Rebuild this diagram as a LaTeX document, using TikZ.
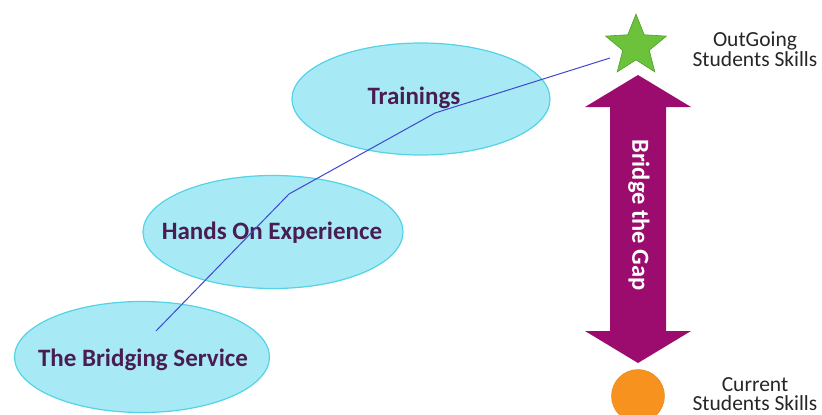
\documentclass[tikz,border=0pt]{standalone}
\usepackage{fontspec}
\setmainfont{Carlito}
\usetikzlibrary{shapes.geometric}
\definecolor{skyfill}{HTML}{A8E9F6}
\definecolor{skyline}{HTML}{52D4E6}
\definecolor{plumtext}{HTML}{4A1D52}
\definecolor{gapplum}{HTML}{9C0C6E}
\definecolor{pathblue}{HTML}{3E47CF}
\definecolor{stargreen}{HTML}{6CC23A}
\definecolor{starline}{HTML}{4E9E2C}
\definecolor{dotorange}{HTML}{F7921E}
\tikzset{
  stage/.style={ellipse, draw=skyline, line width=1.2pt, fill=skyfill, inner sep=0},
  stagetext/.style={text=plumtext, font=\fontsize{25}{28}\selectfont\bfseries},
  skill/.style={align=center, text=black!85, font=\fontsize{21.5}{19.5}\selectfont},
}
\begin{document}
\begin{tikzpicture}[x=1pt,y=-1pt]
        \useasboundingbox (0,0) rectangle (822,415);

        \node[stage, minimum width=258, minimum height=112] at (421,99) (trainings) {};
        \node[stagetext] at (414,98) (trainingstext) {Trainings};
        \node[stage, minimum width=260, minimum height=113] at (273,232) (hands) {};
        \node[stagetext] at (272,233) (handstext) {Hands On Experience};
        \node[stage, minimum width=255, minimum height=111] at (142,357) (bridging) {};
        \node[stagetext] at (143,360) (bridgingtext) {The Bridging Service};

        \node[star, star points=5, star point ratio=2.3, minimum size=64, inner sep=0,
              fill=stargreen, draw=starline, line width=0.6pt] at (636,46) (outgoing) {};
        \node[circle, minimum size=53, inner sep=0, fill=dotorange, draw=dotorange!90!black,
              line width=0.4pt] at (638,396) (current) {};

        \fill[gapplum] (638,75) -- (691,107) -- (666,107) -- (666,331) -- (691,331)
              -- (638,363) -- (585,331) -- (610,331) -- (610,107) -- (585,107) -- cycle;
        \node[rotate=-90, text=white, font=\fontsize{24.5}{26}\selectfont\bfseries] at (639,215) (gap) {Bridge the Gap};

        \node[skill] at (755,49) (outtext) {OutGoing\\Students Skills};
        \node[skill] at (755,394) (curtext) {Current\\Students Skills};

        \coordinate (p0) at (156,331);
        \coordinate (p1) at (289,194);
        \coordinate (p2) at (435,113);
        \coordinate (p3) at (610,58);
        \draw[pathblue, line width=1pt] (p0) -- (p1) -- (p2) -- (p3);

    \end{tikzpicture}
\end{document}
